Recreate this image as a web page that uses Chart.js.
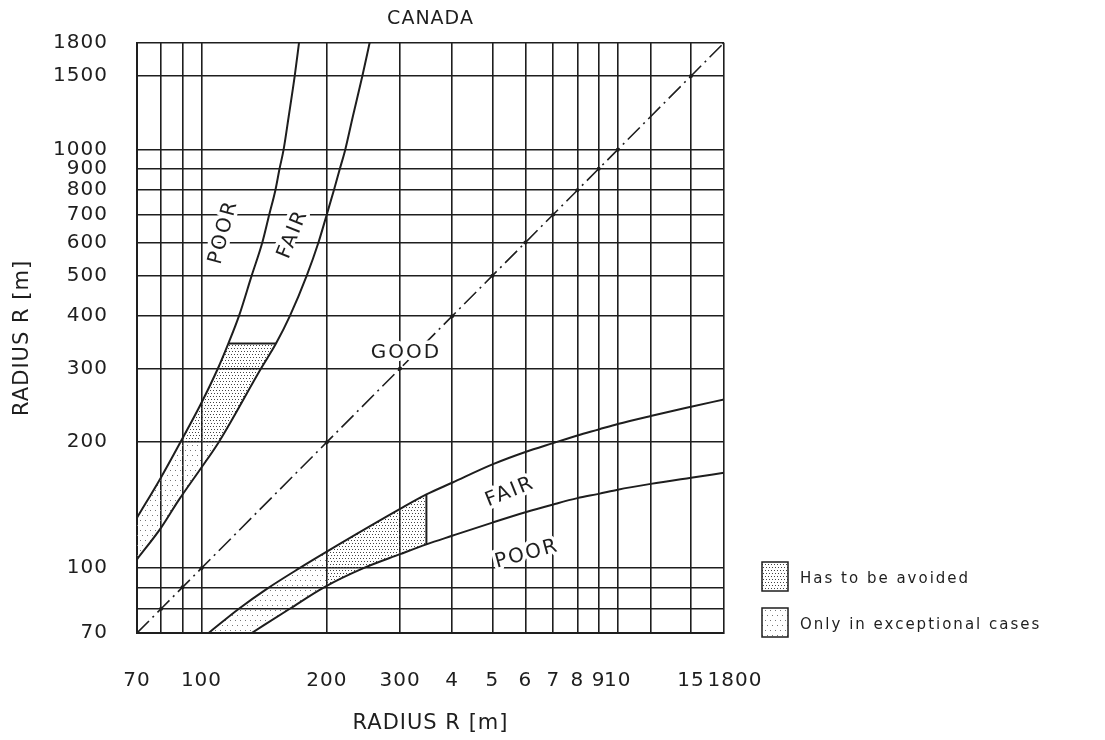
<!DOCTYPE html>
<html>
<head>
<meta charset="utf-8">
<script src="https://cdn.jsdelivr.net/npm/chart.js@4.4.0/dist/chart.umd.min.js"></script>
<style>
  html, body { margin: 0; padding: 0; background: #fff; }
  #wrap { width: 1105px; height: 740px; position: relative; }
</style>
</head>
<body>
<div id="wrap"><canvas id="relationChart"></canvas></div>
<script>
// grid lines + tick labels (radius in m)
const xGrid = [70, 80, 90, 100, 200, 300, 400, 500, 600, 700, 800, 900, 1000, 1200, 1500, 1800];
const xTickLabels = ['70', '', '', '100', '200', '300', '4', '5', '6', '7', '8', '9', '10', '', '15', '1800'];
const yGrid = [70, 80, 90, 100, 200, 300, 400, 500, 600, 700, 800, 900, 1000, 1500, 1800];
const yTickLabels = ['70', '', '', '100', '200', '300', '400', '500', '600', '700', '800', '900', '1000', '1500', '1800'];

// boundary curves, upper-left band
const poorUpperX = [70, 80, 89, 99.5, 109.5, 116, 123, 132, 140, 145.5, 150.5, 154, 157.5, 162, 167.5, 171.5];
const poorUpperY = [132, 165, 200, 246, 300, 344, 400, 500, 600, 700, 800, 900, 1000, 1200, 1500, 1800];
const fairUpperX = [70, 80, 88, 100, 110, 139, 151, 163, 179, 191, 200, 208, 215, 221.5, 231, 243.5, 253.5];
const fairUpperY = [105, 125, 145, 174, 200, 300, 344, 400, 500, 600, 700, 800, 900, 1000, 1200, 1500, 1800];

// boundary curves, lower-right band
const fairLowerX = [104, 123, 143, 172, 200, 300, 347, 400, 500, 600, 700, 800, 900, 1000, 1200, 1500, 1800];
const fairLowerY = [70, 80, 89, 100, 109.5, 138.5, 150, 160, 177, 189.5, 199, 207.5, 214.5, 221, 231, 243, 253];
const poorLowerX = [132, 163, 197, 245, 300, 347, 400, 500, 600, 700, 800, 900, 1000, 1200, 1500, 1800];
const poorLowerY = [70, 80, 90, 100, 108, 114, 119.5, 128.5, 136, 142, 147, 150.5, 154, 159, 164.5, 169];

// R1 = R2 line
const goodX = [70, 80, 90, 100, 200, 300, 400, 500, 600, 700, 800, 900, 1000, 1500, 1800];
const goodY = [70, 80, 90, 100, 200, 300, 400, 500, 600, 700, 800, 900, 1000, 1500, 1800];

// hatched zones (outline vertices)
const avoidUpperX = [89, 99.5, 109.5, 116, 151, 139, 110];
const avoidUpperY = [200, 246, 300, 344, 344, 300, 200];
const exceptUpperX = [70, 80, 89, 110, 100, 88, 80, 70];
const exceptUpperY = [132, 165, 200, 200, 174, 145, 125, 105];
const avoidLowerX = [200, 300, 347, 347, 300, 245, 200];
const avoidLowerY = [109.5, 138.5, 150, 114, 108, 100, 90.5];
const exceptLowerX = [104, 123, 143, 172, 200, 200, 197, 163, 132];
const exceptLowerY = [70, 80, 89, 100, 109.5, 90.5, 90, 80, 70];

// edges closing the hatched zones
const capUpperX = [116, 151];
const capUpperY = [344, 344];
const capLowerX = [347, 347];
const capLowerY = [150, 114];

const curveLabels = [
  { text: 'POOR', x: 113, y: 635, angle: -75 },
  { text: 'FAIR', x: 166, y: 628, angle: -68 },
  { text: 'GOOD', x: 310, y: 327, angle: 0 },
  { text: 'FAIR', x: 551, y: 152, angle: -22 },
  { text: 'POOR', x: 605, y: 108, angle: -15 }
];

const pts = (xs, ys) => xs.map((x, i) => ({ x: x, y: ys[i] }));

function dotPattern(step, color, stagger) {
  const c = document.createElement('canvas');
  c.width = step;
  c.height = step * 2;
  const g = c.getContext('2d');
  g.fillStyle = color;
  g.fillRect(0, 0, 1, 1);
  g.fillRect(stagger ? Math.floor(step / 2) : 0, step, 1, 1);
  return g.createPattern(c, 'repeat');
}

const ink = '#1e1e1e';
const densePattern = dotPattern(3, '#444', true);
const sparsePattern = dotPattern(5, '#777', true);

const curve = (xs, ys) => ({
  data: pts(xs, ys),
  borderColor: ink,
  borderWidth: 2,
  pointRadius: 0,
  cubicInterpolationMode: 'monotone',
  fill: false,
  order: 1
});

const zone = (label, xs, ys, pattern) => ({
  label: label,
  hatch: true,
  data: pts(xs, ys),
  borderWidth: 0,
  borderColor: 'rgba(0,0,0,0)',
  backgroundColor: pattern,
  pointRadius: 0,
  tension: 0,
  fill: 'shape',
  order: 5
});

const edge = (xs, ys) => ({
  data: pts(xs, ys),
  borderColor: ink,
  borderWidth: 2,
  pointRadius: 0,
  fill: false,
  order: 2
});

const whiteBg = {
  id: 'whiteBg',
  beforeDraw(chart) {
    const ctx = chart.ctx;
    ctx.save();
    ctx.fillStyle = '#fff';
    ctx.fillRect(0, 0, chart.width, chart.height);
    ctx.restore();
    // the drafting lettering is spaced a little wider
    ctx.letterSpacing = '1px';
  },
  afterDraw(chart) {
    chart.ctx.letterSpacing = '0px';
  }
};

// text on the curves, placed in data units
const curveText = {
  id: 'curveText',
  afterDatasetsDraw(chart) {
    const { ctx, scales } = chart;
    ctx.save();
    ctx.font = '20px "DejaVu Sans"';
    ctx.letterSpacing = '2px';
    ctx.textAlign = 'center';
    ctx.textBaseline = 'middle';
    curveLabels.forEach(l => {
      const px = scales.x.getPixelForValue(l.x);
      const py = scales.y.getPixelForValue(l.y);
      ctx.save();
      ctx.translate(px, py);
      ctx.rotate(l.angle * Math.PI / 180);
      ctx.strokeStyle = '#fff';
      ctx.lineWidth = 7;
      ctx.lineJoin = 'round';
      ctx.strokeText(l.text, 0, 0);
      ctx.fillStyle = ink;
      ctx.fillText(l.text, 0, 0);
      ctx.restore();
    });
    ctx.restore();
  }
};

const hatchLegend = {
  id: 'hatchLegend',
  afterDraw(chart) {
    const { ctx, chartArea } = chart;
    const items = [];
    chart.data.datasets.forEach(ds => {
      if (ds.hatch && !items.some(it => it.label === ds.label)) items.push(ds);
    });
    ctx.save();
    ctx.font = '15px "DejaVu Sans"';
    ctx.letterSpacing = '2px';
    ctx.textBaseline = 'middle';
    items.forEach((ds, i) => {
      const bx = chartArea.right + 38;
      const by = chartArea.bottom - 71 + i * 46;
      ctx.fillStyle = ds.backgroundColor;
      ctx.fillRect(bx, by, 26, 29);
      ctx.strokeStyle = ink;
      ctx.lineWidth = 1.5;
      ctx.strokeRect(bx, by, 26, 29);
      ctx.fillStyle = ink;
      ctx.fillText(ds.label, bx + 38, by + 17);
    });
    ctx.restore();
  }
};

const ctx = document.getElementById('relationChart').getContext('2d');
new Chart(ctx, {
  type: 'line',
  data: {
    datasets: [
      zone('Has to be avoided', avoidUpperX, avoidUpperY, densePattern),
      zone('Has to be avoided', avoidLowerX, avoidLowerY, densePattern),
      zone('Only in exceptional cases', exceptUpperX, exceptUpperY, sparsePattern),
      zone('Only in exceptional cases', exceptLowerX, exceptLowerY, sparsePattern),
      curve(poorUpperX, poorUpperY),
      curve(fairUpperX, fairUpperY),
      curve(fairLowerX, fairLowerY),
      curve(poorLowerX, poorLowerY),
      edge(capUpperX, capUpperY),
      edge(capLowerX, capLowerY),
      {
        data: pts(goodX, goodY),
        borderColor: ink,
        borderWidth: 1.6,
        borderDash: [17, 5, 2, 5],
        pointRadius: 2,
        pointBackgroundColor: ink,
        pointBorderWidth: 0,
        fill: false,
        order: 3
      }
    ]
  },
  options: {
    responsive: true,
    maintainAspectRatio: false,
    animation: false,
    events: [],
    layout: { padding: { top: 0, right: 381, bottom: 0, left: 0 } },
    plugins: {
      legend: { display: false },
      tooltip: { enabled: false },
      title: {
        display: true,
        text: 'CANADA',
        fullSize: false,
        color: ink,
        font: { family: 'DejaVu Sans', size: 19, weight: 'normal', lineHeight: 1.2 },
        padding: { top: 8, bottom: 12 }
      }
    },
    scales: {
      x: {
        type: 'logarithmic',
        min: 70,
        max: 1800,
        afterBuildTicks: s => { s.ticks = xGrid.map(v => ({ value: v })); },
        afterFit: s => { s.height = 107; },
        grid: { color: ink, lineWidth: 1.6, drawTicks: false },
        border: { display: true, color: ink, width: 2 },
        ticks: {
          autoSkip: false,
          maxRotation: 0,
          padding: 36,
          color: ink,
          font: { family: 'DejaVu Sans', size: 20 },
          // last label sits a little right of its line, clear of "15"
          callback: (v, i, ticks) => {
            const label = xTickLabels[xGrid.indexOf(v)];
            return i === ticks.length - 1 ? '\u2002\u2002' + label : label;
          }
        },
        title: {
          display: true,
          text: 'RADIUS R [m]',
          color: ink,
          font: { family: 'DejaVu Sans', size: 21, lineHeight: 1.2 },
          padding: { top: 0, bottom: 4 }
        }
      },
      y: {
        type: 'logarithmic',
        min: 70,
        max: 1800,
        afterBuildTicks: s => { s.ticks = yGrid.map(v => ({ value: v })); },
        afterFit: s => { s.width = 137; },
        grid: { color: ink, lineWidth: 1.6, drawTicks: false },
        border: { display: true, color: ink, width: 2 },
        ticks: {
          autoSkip: false,
          padding: 29,
          color: ink,
          font: { family: 'DejaVu Sans', size: 20 },
          callback: v => yTickLabels[yGrid.indexOf(v)]
        },
        title: {
          display: true,
          text: 'RADIUS R [m]',
          color: ink,
          font: { family: 'DejaVu Sans', size: 21, lineHeight: 1.2 },
          padding: { top: 10, bottom: 0 }
        }
      }
    }
  },
  plugins: [whiteBg, curveText, hatchLegend]
});
</script>
</body>
</html>
